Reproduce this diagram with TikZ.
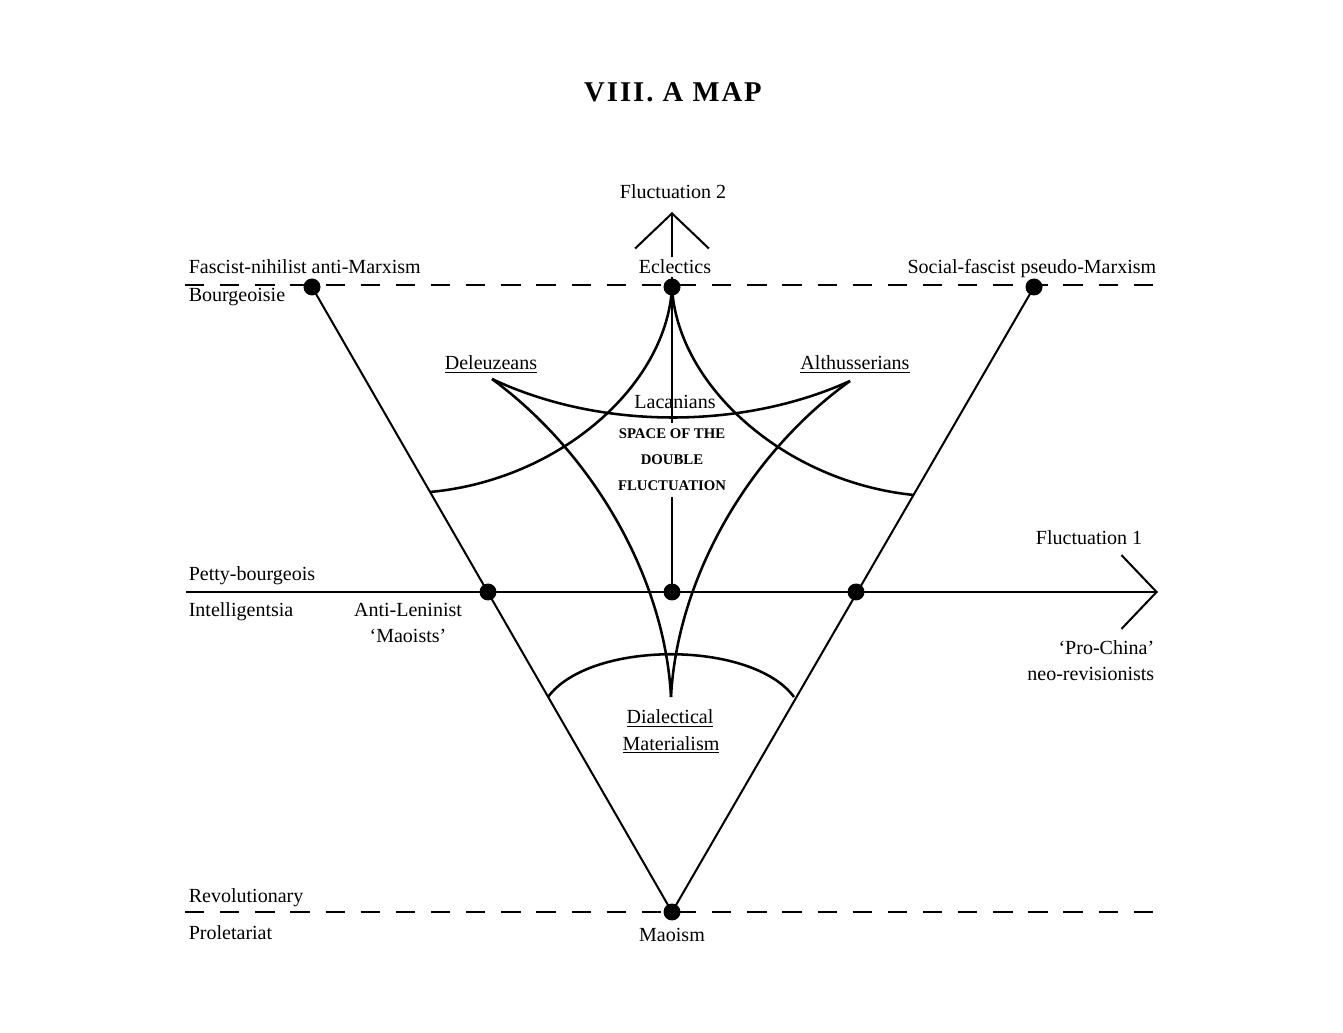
\documentclass[tikz,border=0pt]{standalone}
\usepackage{fontspec}
\setmainfont{Liberation Serif}
\usetikzlibrary{arrows.meta,positioning}
\tikzset{every node/.style={font=\fontsize{11.4}{14}\selectfont}}

\begin{document}
\begin{tikzpicture}[
  x=0.02cm, y=-0.02cm,
  line width=1.15pt,
  every node/.style={font=\fontsize{11.4}{14}\selectfont, inner sep=1pt},
  dot/.style={circle, fill=black, inner sep=0pt, minimum size=0.34cm},
  dashes/.style={dash pattern=on 11pt off 9pt, line width=1.25pt},
  curve/.style={line width=1.45pt},
  fluct/.style={-{Straight Barb[length=20pt,width=42pt,line width=1.15pt]}},
  caps/.style={font=\fontsize{8.4}{14.8}\selectfont\bfseries, align=center, inner sep=3pt},
  title/.style={font=\fontsize{16.3}{19}\selectfont\bfseries\addfontfeatures{LetterSpace=7}}
]
\useasboundingbox (0,0) rectangle (1343,1033);

\node[title, anchor=base] (maptitle) at (673,102) {VIII. A MAP};

\node[dot] (fascist) at (312,287) {};
\node[dot] (eclectics) at (672,287) {};
\node[dot] (socfascist) at (1034,287) {};
\node[dot] (antilenin) at (488,592) {};
\node[dot] (centre) at (672,592) {};
\node[dot] (prochina) at (856,592) {};
\node[dot] (maoism) at (672,912) {};

\coordinate (topl) at (185,285);
\coordinate (topr) at (1160,285);
\coordinate (botl) at (185,912);
\coordinate (botr) at (1158,912);
\coordinate (midl) at (186,592);
\coordinate (f1tip) at (1158,592);
\coordinate (f2tip) at (672,212);

\draw[dashes] (topl) -- (topr);
\draw[dashes] (botl) -- (botr);
\draw[fluct] (midl) -- (f1tip);
\draw (fascist.center) -- (maoism.center) -- (socfascist.center);

\node (f2label) at (673,192) {Fluctuation 2};
\node[anchor=base] (eclabel) at (675,274) {Eclectics};
\draw (eclectics.center) -- (eclabel.south -| eclectics);
\draw[fluct] (eclabel.north -| f2tip) -- (f2tip);

\node[anchor=base west] (fnlabel) at (186,274) {Fascist-nihilist anti-Marxism};
\node[anchor=base west] (bourg) at (186,302) {Bourgeoisie};
\node[anchor=base east] (sflabel) at (1159,274) {Social-fascist pseudo-Marxism};

\node[anchor=base] (delabel) at (491,370) {\underline{Deleuzeans}};
\node[anchor=base] (allabel) at (855,370) {\underline{Althusserians}};
\node[anchor=base] (lalabel) at (675,409) {Lacanians};
\node[caps] (space) at (672,460) {SPACE OF THE\\DOUBLE\\FLUCTUATION};
\draw (eclectics.center) -- (space.north);
\draw (space.south) -- (centre.center);

\coordinate (lfoot) at (430,492);
\coordinate (rfoot) at (914,495);
\coordinate (deltip) at (492,379);
\coordinate (alttip) at (850,381);
\coordinate (cusp) at (671,697);
\coordinate (dml) at (548,697);
\coordinate (dmr) at (794,697);

\draw[curve] (eclectics.center) .. controls (667,385) and (560,480) .. (lfoot);
\draw[curve] (eclectics.center) .. controls (677,385) and (784,482) .. (rfoot);
\draw[curve] (deltip) .. controls (600,430) and (742,430) .. (alttip);
\draw[curve] (deltip) .. controls (595,455) and (665,580) .. (cusp);
\draw[curve] (alttip) .. controls (747,455) and (677,580) .. (cusp);
\draw[curve] (dml) .. controls (590,640) and (752,640) .. (dmr);

\node[anchor=base east] (f1label) at (1145,545) {Fluctuation 1};
\node[anchor=base west] (pblabel) at (186,581) {Petty-bourgeois};
\node[anchor=base west] (intlabel) at (186,617) {Intelligentsia};
\node[anchor=base] (anti1) at (408,617) {Anti-Leninist};
\node[anchor=base] (anti2) at (408,643) {`Maoists'};
\node[anchor=base east] (pc1) at (1157,655) {`Pro-China'};
\node[anchor=base east] (pc2) at (1157,681) {neo-revisionists};

\node[anchor=base] (dm1) at (670,724) {\underline{Dialectical}};
\node[anchor=base] (dm2) at (671,750) {\underline{Materialism}};

\node[anchor=base west] (revlabel) at (186,902) {Revolutionary};
\node[anchor=base west] (prollabel) at (186,939) {Proletariat};
\node[anchor=base] (maolabel) at (672,941) {Maoism};
\end{tikzpicture}
\end{document}
